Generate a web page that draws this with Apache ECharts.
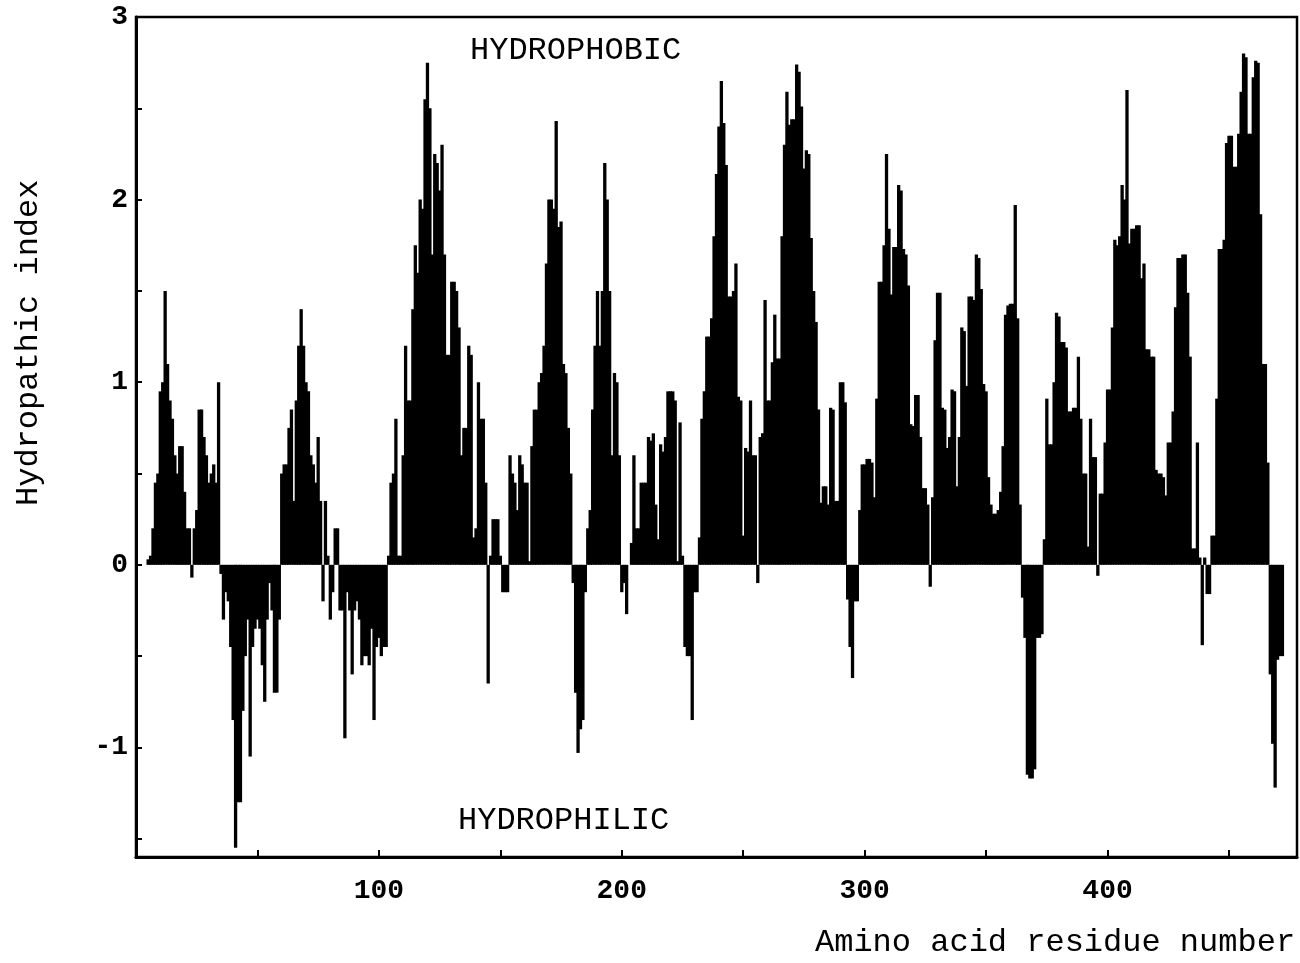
<!DOCTYPE html>
<html lang="en">
<head>
  <meta charset="UTF-8">
  <title>Hydropathy plot</title>
  <style>
    html, body { margin: 0; padding: 0; background: #fff; }
    #chart { width: 1300px; height: 963px; }
  </style>
  <script src="https://cdn.jsdelivr.net/npm/echarts@6/dist/echarts.min.js"></script>
</head>
<body>
  <div id="chart"></div>
<script>
  // hydropathic index per residue, starting at residue 5
  var firstResidue = 5;
  var hydropathy = [
    0.03, 0.05, 0.2, 0.45, 0.5, 0.95, 1.0, 1.5, 1.1, 0.9,
    0.8, 0.6, 0.5, 0.65, 0.65, 0.4, 0.2, 0.2, -0.07, 0.2,
    0.3, 0.85, 0.85, 0.7, 0.6, 0.45, 0.5, 0.55, 0.45, 1.0,
    -0.05, -0.3, -0.15, -0.2, -0.45, -0.85, -1.55, -1.3, -1.3, -0.8,
    -0.5, -0.3, -1.05, -0.45, -0.35, -0.3, -0.35, -0.55, -0.75, -0.3,
    -0.1, -0.25, -0.7, -0.7, -0.3, 0.5, 0.55, 0.55, 0.75, 0.85,
    0.35, 0.9, 1.2, 1.4, 1.2, 1.0, 0.95, 0.6, 0.55, 0.45,
    0.7, 0.35, -0.2, 0.35, 0.05, -0.3, -0.15, 0.2, 0.2, -0.25,
    -0.25, -0.95, -0.15, -0.25, -0.6, -0.25, -0.2, -0.3, -0.55, -0.5,
    -0.5, -0.55, -0.35, -0.85, -0.45, -0.4, -0.5, -0.45, -0.45, 0.05,
    0.45, 0.5, 0.8, 0.05, 0.05, 0.6, 1.2, 0.9, 0.9, 1.4,
    1.75, 1.6, 2.0, 1.95, 2.55, 2.75, 2.5, 1.7, 2.25, 2.2,
    2.05, 2.3, 1.7, 1.15, 1.15, 1.55, 1.55, 1.5, 1.3, 0.6,
    0.75, 0.75, 1.2, 1.15, 0.15, 0.2, 1.0, 0.8, 0.8, 0.45,
    -0.65, 0.05, 0.25, 0.25, 0.25, 0.05, -0.15, -0.15, -0.15, 0.6,
    0.5, 0.45, 0.3, 0.6, 0.55, 0.45, 0.45, 0.02, 0.65, 0.85,
    0.85, 1.0, 1.05, 1.2, 1.65, 2.0, 2.0, 1.95, 2.43, 1.85,
    1.88, 1.1, 1.05, 0.75, 0.5, -0.1, -0.7, -1.03, -0.9, -0.85,
    -0.15, 0.2, 0.3, 0.85, 1.2, 1.5, 1.2, 1.5, 2.2, 2.0,
    1.5, 0.6, 1.05, 1.0, 0.6, -0.15, -0.1, -0.27, 0.0, 0.12,
    0.6, 0.2, 0.2, 0.45, 0.45, 0.45, 0.7, 0.68, 0.72, 0.33,
    0.14, 0.66, 0.62, 0.7, 0.95, 0.95, 0.95, 0.9, 0.02, 0.78,
    0.05, -0.45, -0.5, -0.5, -0.85, -0.15, -0.15, 0.15, 0.8, 0.95,
    1.25, 1.25, 1.35, 1.8, 2.14, 2.4, 2.65, 2.42, 2.19, 1.47,
    1.47, 1.5, 1.65, 0.92, 0.9, 0.16, 0.64, 0.62, 0.9, 0.6,
    0.6, -0.1, 0.7, 0.72, 1.45, 0.9, 0.9, 1.11, 1.37, 1.13,
    1.13, 1.8, 2.3, 2.59, 2.41, 2.44, 2.44, 2.74, 2.7, 2.51,
    2.17, 2.27, 2.25, 1.79, 1.5, 1.33, 0.85, 0.34, 0.43, 0.43,
    0.33, 0.86, 0.85, 0.35, 0.35, 1.0, 1.0, 0.89, -0.19, -0.45,
    -0.62, -0.2, -0.2, 0.3, 0.55, 0.55, 0.58, 0.58, 0.56, 0.37,
    0.91, 1.55, 1.55, 1.75, 2.25, 1.84, 1.48, 1.74, 1.74, 2.08,
    2.05, 1.73, 1.7, 1.53, 0.77, 0.76, 0.93, 0.93, 0.7, 0.42,
    0.42, 0.33, -0.12, 0.37, 1.23, 1.49, 1.49, 0.86, 0.85, 0.64,
    0.7, 0.96, 0.95, 0.43, 0.7, 1.3, 1.28, 0.98, 1.47, 1.47,
    1.45, 1.7, 1.68, 1.51, 0.99, 0.95, 0.48, 0.33, 0.28, 0.28,
    0.3, 0.4, 0.65, 1.37, 1.42, 1.43, 1.43, 1.97, 1.35, 0.33,
    -0.18, -0.4, -1.15, -1.17, -1.17, -1.12, -0.4, -0.4, -0.38, 0.14,
    0.91, 0.66, 0.66, 1.0, 1.38, 1.36, 1.22, 1.22, 1.19, 0.84,
    0.84, 0.86, 0.86, 1.14, 0.8, 0.5, 0.5, 0.1, 0.8, 0.59,
    0.59, -0.06, 0.39, 0.39, 0.67, 0.96, 0.96, 1.3, 1.78, 1.75,
    1.8, 2.08, 2.0, 2.6, 1.76, 1.84, 1.84, 1.86, 1.86, 1.57,
    1.65, 1.18, 1.18, 1.14, 1.14, 0.52, 0.5, 0.5, 0.48, 0.38,
    0.67, 0.67, 0.84, 1.41, 1.68, 1.68, 1.7, 1.7, 1.49, 1.14,
    0.09, 0.09, 0.67, 0.04, -0.44, 0.04, -0.16, -0.16, 0.16, 0.16,
    0.91, 1.73, 1.73, 1.78, 2.31, 2.35, 2.35, 2.18, 2.18, 2.36,
    2.59, 2.8, 2.78, 2.36, 2.36, 2.67, 2.76, 2.75, 1.92, 1.1,
    1.1, 0.56, -0.6, -0.98, -1.22, -0.52, -0.5, -0.5
  ];
  var xTickLabels = [100, 200, 300, 400];
  var yTickLabels = [-1, 0, 1, 2, 3];

  var chart = echarts.init(document.getElementById('chart'));

  var barData = hydropathy.map(function(v, i) {
    return [firstResidue + i, v];
  });

  var mono = "'Liberation Mono', 'DejaVu Sans Mono', monospace";

  var option = {
    animation: false,
    backgroundColor: '#fff',
    grid: {
      left: 136,
      right: 3,
      top: 17,
      bottom: 106,
      show: true,
      borderColor: '#000',
      borderWidth: 2.5,
      backgroundColor: 'transparent'
    },
    xAxis: {
      type: 'value',
      min: 0,
      max: 478,
      interval: 50,
      axisLine: { show: true, onZero: false, lineStyle: { color: '#000', width: 3 } },
      axisTick: { show: true, inside: true, length: 7, lineStyle: { color: '#000', width: 2 } },
      splitLine: { show: false },
      axisLabel: {
        margin: 20,
        color: '#000',
        fontFamily: mono,
        fontWeight: 'bold',
        fontSize: 28,
        showMaxLabel: false,
        formatter: function(v) {
          return xTickLabels.indexOf(Math.round(v)) >= 0 ? String(Math.round(v)) : '';
        }
      }
    },
    yAxis: {
      type: 'value',
      min: -1.6,
      max: 3,
      splitNumber: 9,
      axisLine: { show: true, lineStyle: { color: '#000', width: 3 } },
      axisTick: { show: true, inside: true, length: 6, lineStyle: { color: '#000', width: 2 } },
      splitLine: { show: false },
      axisLabel: {
        margin: 8,
        color: '#000',
        fontFamily: mono,
        fontWeight: 'bold',
        fontSize: 28,
        formatter: function(v) {
          var r = Math.round(v * 10) / 10;
          return yTickLabels.indexOf(r) >= 0 ? String(r) : '';
        }
      }
    },
    graphic: [
      {
        type: 'text',
        left: 470, top: 35,
        style: { text: 'HYDROPHOBIC', fill: '#000', font: '32px ' + mono }
      },
      {
        type: 'text',
        left: 458, top: 805,
        style: { text: 'HYDROPHILIC', fill: '#000', font: '32px ' + mono }
      },
      {
        type: 'text',
        left: 815, top: 927,
        style: { text: 'Amino acid residue number', fill: '#000', font: '32px ' + mono }
      },
      {
        type: 'text',
        x: 13, y: 506,
        rotation: Math.PI / 2,
        style: { text: 'Hydropathic index', fill: '#000', font: '32px ' + mono }
      }
    ],
    series: [{
      type: 'bar',
      data: barData,
      barWidth: 3.3,
      itemStyle: { color: '#000' }
    }]
  };

  chart.setOption(option);
</script>
</body>
</html>
